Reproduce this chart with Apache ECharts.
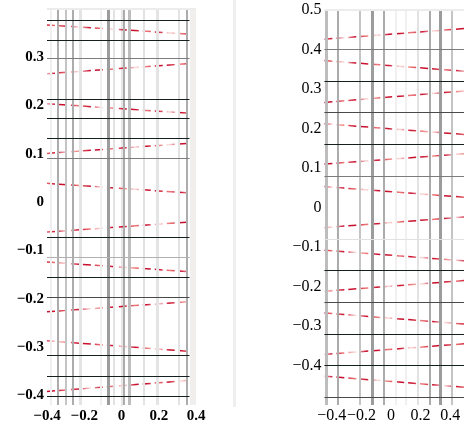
<!DOCTYPE html>
<html><head><meta charset="utf-8">
<script src="https://cdn.jsdelivr.net/npm/echarts@6/dist/echarts.min.js"></script>
<style>html,body{margin:0;padding:0;background:#fff}#c{width:464px;height:424px}</style>
</head><body><div id="c"></div>
<script>
// ---- data ----
const leftYTicks = [-0.4, -0.3, -0.2, -0.1, 0, 0.1, 0.2, 0.3];
const leftXTicks = [-0.4, -0.2, 0, 0.2, 0.4];
const rightYTicks = [-0.4, -0.3, -0.2, -0.1, 0, 0.1, 0.2, 0.3, 0.4, 0.5];
const rightXTicks = [-0.4, -0.2, 0, 0.2, 0.4];

const leftRules = [0.3775, 0.336, 0.297, 0.214, 0.173, 0.133, 0.090, -0.072, -0.114, -0.156, -0.196, -0.318, -0.360, -0.401];
const rightRules = [0.401, 0.321, 0.240, 0.159, 0.079, -0.080, -0.161, -0.241, -0.319, -0.399, -0.481];

const leftStripes = [-0.384, -0.339, -0.303, -0.262, -0.223, -0.106, -0.074, -0.035, 0.006, 0.042, 0.121, 0.194, 0.310, 0.350];
const rightStripes = [-0.439, -0.360, -0.207, -0.128, -0.054, 0.029, 0.103, 0.176, 0.255, 0.329, 0.407];

const leftSpan = [-0.4, 0.365];
const leftSlopeStart = [0.367, 0.266, 0.204, 0.101, 0.039, -0.062, -0.124, -0.227, -0.287, -0.392];
const leftSlopeEnd   = [0.348, 0.287, 0.184, 0.122, 0.019, -0.041, -0.144, -0.206, -0.309, -0.369];

const rightSpan = [-0.45, 0.493];
const rightSlopeStart = [0.426, 0.372, 0.266, 0.212, 0.110, 0.053, -0.051, -0.108, -0.212, -0.267, -0.372, -0.427];
const rightSlopeEnd   = [0.453, 0.345, 0.295, 0.185, 0.136, 0.026, -0.024, -0.135, -0.185, -0.295, -0.345, -0.455];

// ---- styles (kept apart from data) ----
const leftRuleTone  = ['k','k','g','k','k','k','g','k','l','k','m','k','k','k'];
const rightRuleTone = ['g','k','m','k','g','x','k','m','k','k','m'];
const ruleStyle = {
  k: {color: '#142020', width: 1.2},
  g: {color: '#7c7c7c', width: 1.2},
  l: {color: '#b0b0b0', width: 1.2},
  m: {color: '#4a4a4a', width: 1.2},
  x: {color: '#e2e2e2', width: 1.2}
};
const leftStripeTone  = ['f','b','c','b','e3','f','d3','e','b','c3','e','e3','e','b'];
const rightStripeTone = ['c3','b','c','d3','b','f','f','e','b','d3','c'];
const stripeStyle = {
  d3: {color: '#9c9c9c', width: 3},
  b:  {color: '#acacac', width: 2},
  c:  {color: '#c4c4c4', width: 2},
  c3: {color: '#bdbdbd', width: 3},
  e:  {color: '#e2e2e2', width: 2},
  e3: {color: '#e4e4e4', width: 3},
  f:  {color: '#f0f0f0', width: 2}
};

const fmt = v => { const r = Math.round(v * 10) / 10; return (r < 0 ? '\u2212' : '') + Math.abs(r); };
const leftFont = {fontFamily: '"Liberation Serif", "DejaVu Serif", serif', fontSize: 15, fontWeight: 'bold', color: '#000'};
const rightFont = {fontFamily: '"Liberation Serif", "DejaVu Serif", serif', fontSize: 16, fontWeight: 'normal', color: '#000'};

function grad(k) {
  const A = '#c8102e', B = '#ee7b7b', C = '#fbdede';
  const seq = [A, B, A, C, A, B, C, A, A, B, A, C, B, A];
  const stops = [];
  const n = seq.length;
  for (let i = 0; i < n; i++) stops.push({offset: i / (n - 1), color: seq[(i + k * 3) % n]});
  return new echarts.graphic.LinearGradient(0, 0, 1, 0, stops);
}

const chart = echarts.init(document.getElementById('c'));
const series = [];

function panel(idx, rules, ruleTone, stripes, stripeTone, span, s0, s1, ruleFull, topVal) {
  const stripeLines = stripes.map((v, i) => ({xAxis: v, lineStyle: {type: 'solid', color: stripeStyle[stripeTone[i]].color, width: stripeStyle[stripeTone[i]].width}}));
  stripeLines.push({yAxis: topVal, lineStyle: {type: 'solid', color: '#ececec', width: 2}});
  series.push({
    type: 'line', xAxisIndex: idx, yAxisIndex: idx, data: [], z: 1, silent: true,
    markLine: {silent: true, symbol: 'none', label: {show: false}, animation: false, data: stripeLines}
  });
  series.push({
    type: 'line', xAxisIndex: idx, yAxisIndex: idx, data: [], z: 2, silent: true,
    markLine: {
      silent: true, symbol: 'none', label: {show: false}, animation: false,
      data: rules.map((v, i) => {
        const ls = {type: 'solid', color: ruleStyle[ruleTone[i]].color, width: ruleStyle[ruleTone[i]].width};
        return ruleFull ? {yAxis: v, lineStyle: ls} : [{coord: [span[0], v], lineStyle: ls}, {coord: [span[1], v]}];
      })
    }
  });
  s0.forEach((v, i) => {
    series.push({
      type: 'line', xAxisIndex: idx, yAxisIndex: idx, z: 3, silent: true,
      showSymbol: false, animation: false,
      data: [[span[0], v], [span[1], s1[i]]],
      lineStyle: {width: 1.5, type: [8, 4], color: grad(i + idx * 5)}
    });
  });
}

panel(0, leftRules, leftRuleTone, leftStripes, leftStripeTone, leftSpan, leftSlopeStart, leftSlopeEnd, false, 0.4);
panel(1, rightRules, rightRuleTone, rightStripes, rightStripeTone, rightSpan, rightSlopeStart, rightSlopeEnd, true, 0.5);

// light strip at right of left panel
series[0].markArea = {silent: true, itemStyle: {color: '#f0efee'}, data: [[{xAxis: 0.368}, {xAxis: 0.4}]]};

chart.setOption({
  animation: false,
  backgroundColor: '#fff',
  grid: [
    {left: 47, top: 9, width: 149, height: 396},
    {left: 324.4, top: 10, right: 0, height: 397}
  ],
  xAxis: [
    {gridIndex: 0, type: 'value', min: -0.4, max: 0.4, splitLine: {show: false},
     axisLine: {show: false}, axisTick: {show: false},
     axisLabel: Object.assign({customValues: leftXTicks, formatter: fmt, margin: 4, hideOverlap: false}, leftFont)},
    {gridIndex: 1, type: 'value', min: rightSpan[0], max: rightSpan[1], splitLine: {show: false},
     axisLine: {show: false}, axisTick: {show: false},
     axisLabel: Object.assign({customValues: rightXTicks, formatter: fmt, margin: 3, hideOverlap: false, showMinLabel: true, showMaxLabel: true}, rightFont)}
  ],
  yAxis: [
    {gridIndex: 0, type: 'value', min: -0.42, max: 0.4, splitLine: {show: false},
     axisLine: {show: true, lineStyle: {color: '#e6e6e6', width: 2}}, axisTick: {show: false},
     axisLabel: Object.assign({customValues: leftYTicks, formatter: fmt, margin: 3}, leftFont)},
    {gridIndex: 1, type: 'value', min: -0.5, max: 0.5, splitLine: {show: false},
     axisLine: {show: false}, axisTick: {show: false},
     axisLabel: Object.assign({customValues: rightYTicks, formatter: fmt, margin: 3}, rightFont)}
  ],
  graphic: [
    {type: 'rect', left: 233, top: 0, shape: {width: 3, height: 407}, style: {fill: '#efefef'}, silent: true}
  ],
  series: series
});
</script></body></html>
